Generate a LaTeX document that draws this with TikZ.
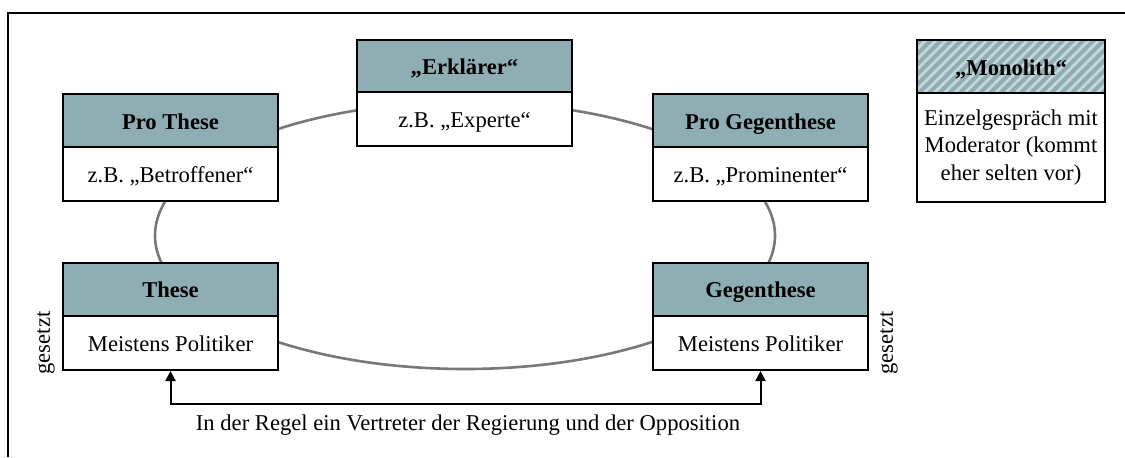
\documentclass[tikz,border=0pt]{standalone}
\usepackage{fontspec}
\setmainfont{Liberation Serif}
\usetikzlibrary{arrows.meta,patterns.meta}
\definecolor{headfill}{RGB}{143,174,180}
\definecolor{stripe}{RGB}{200,215,218}
\definecolor{ringgray}{RGB}{120,120,120}
\begin{document}
\begin{tikzpicture}[x=0.5pt,y=-0.5pt,
  every node/.style={font=\fontsize{11.3}{13.6}\selectfont},
  head/.style={draw=black,line width=1pt,fill=headfill,minimum width=107.5pt,minimum height=26.5pt,inner sep=0pt,text height=9.2pt,text depth=0.5pt,font=\fontsize{11.3}{13.6}\selectfont\bfseries},
  body/.style={draw=black,line width=1pt,fill=white,minimum width=107.5pt,minimum height=27pt,inner sep=0pt,text height=9.2pt,text depth=0.5pt},
  ring/.style={draw=ringgray,line width=1.3pt},
  arr/.style={line width=1pt,{Triangle[length=5pt,width=5pt]}-{Triangle[length=5pt,width=5pt]}},
  side/.style={rotate=90,inner sep=0pt}
]
\useasboundingbox (0,0) rectangle (1125,457);
% frame
\draw[line width=1pt] (1125,13) -- (8,13) -- (8,457);
% ring
\draw[ring] (465,235.5) ellipse [x radius=310, y radius=133.5];
% Erklaerer
\node[head] (eh) at (464.5,66) {„Erklärer“};
\node[body] (eb) at (464.5,119) {z.B. „Experte“};
% Pro These
\node[head] (ph) at (170.5,120.5) {Pro These};
\node[body] (pb) at (170.5,174) {z.B. „Betroffener“};
% Pro Gegenthese
\node[head] (gh) at (760.5,120.5) {Pro Gegenthese};
\node[body] (gb) at (760.5,174) {z.B. „Prominenter“};
% These
\node[head] (th) at (170.5,289) {These};
\node[body] (tb) at (170.5,343) {Meistens Politiker};
% Gegenthese
\node[head] (ch) at (760.5,289) {Gegenthese};
\node[body] (cb) at (760.5,343) {Meistens Politiker};
% Monolith
\fill[headfill] (917,40) rectangle (1105,93);
\fill[pattern={Lines[angle=45,distance=3.6pt,line width=1.4pt]},pattern color=stripe] (917,40) rectangle (1105,93);
\node[draw=black,line width=1pt,minimum width=94pt,minimum height=26.5pt,inner sep=0pt,text height=9.2pt,text depth=0.5pt,font=\fontsize{11.3}{13.6}\selectfont\bfseries] (mh) at (1011,66.5) {„Monolith“};
\node[draw=black,line width=1pt,fill=white,minimum width=94pt,minimum height=54.5pt,inner sep=0pt,align=center,font=\fontsize{11.3}{13.9}\selectfont] (mb) at (1011,147.5) {Einzelgespräch mit\\Moderator (kommt\\eher selten vor)};
% side labels
\node[side] (sl) at (46,343) {gesetzt};
\node[side] (sr) at (889,343) {gesetzt};
% arrow
\draw[arr] (tb.south) -- ++(0,33) -| (cb.south);
\node (lbl) at (468,425) {In der Regel ein Vertreter der Regierung und der Opposition};
\end{tikzpicture}
\end{document}
